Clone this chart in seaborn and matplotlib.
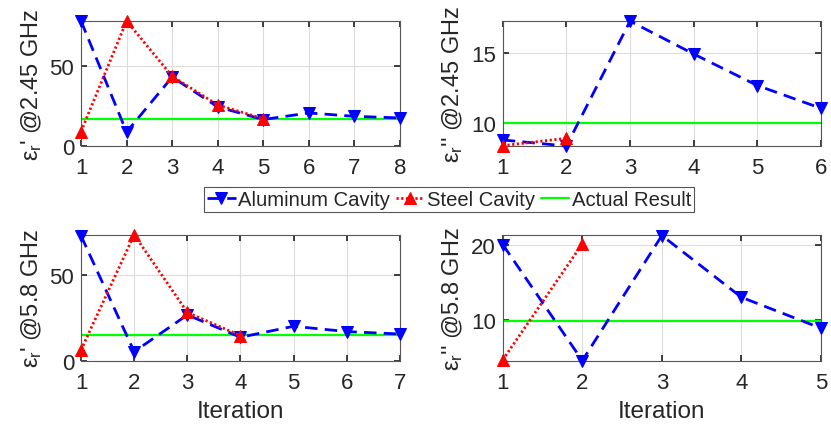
import matplotlib
matplotlib.use("Agg")
import matplotlib.pyplot as plt
import seaborn as sns
import pandas as pd
import numpy as np

# ---- data ----
al_245_re = [78, 8.7, 43, 24.4, 16.5, 20.6, 18.5, 17.5]
st_245_re = [9, 78, 43.5, 25.6, 17]
act_245_re = 16.8

al_245_im = [8.81, 8.38, 17.3, 14.95, 12.7, 11.07]
st_245_im = [8.4, 8.93]
act_245_im = 10.0

al_58_re = [72.7, 5.2, 26.6, 13.6, 20.0, 16.9, 15.5]
st_58_re = [6.2, 73.3, 28.1, 14.5]
act_58_re = 15.1

al_58_im = [20.0, 4.6, 21.2, 13.0, 8.9]
st_58_im = [4.7, 20.1]
act_58_im = 9.8

ylabels = ["ε$_\\mathregular{r}$' @2.45 GHz", "ε$_\\mathregular{r}$'' @2.45 GHz",
           "ε$_\\mathregular{r}$' @5.8 GHz", "ε$_\\mathregular{r}$'' @5.8 GHz"]
yticks = [[0, 50], [10, 15], [0, 50], [10, 20]]
ylims = [(0, 78), (8.38, 17.31), (0, 73.3), (4.6, 21.3)]
legend_labels = ["Aluminum Cavity", "Steel Cavity", "Actual Result"]

sns.set_theme(style="white")
plt.rcParams['font.family'] = ['Liberation Sans', 'DejaVu Sans']
plt.rcParams['mathtext.fontset'] = 'custom'
plt.rcParams['mathtext.rm'] = 'Liberation Sans'
plt.rcParams['mathtext.it'] = 'Liberation Sans:italic'

fig = plt.figure(figsize=(8.31, 4.31), dpi=100)
positions = [
    [0.0975, 0.659, 0.3838, 0.290],
    [0.605, 0.659, 0.383, 0.290],
    [0.0975, 0.161, 0.3838, 0.292],
    [0.605, 0.161, 0.383, 0.292],
]
panels = [
    (al_245_re, st_245_re, act_245_re),
    (al_245_im, st_245_im, act_245_im),
    (al_58_re, st_58_re, act_58_re),
    (al_58_im, st_58_im, act_58_im),
]

axc = '#262626'
handles = None
for i, (al, st, act) in enumerate(panels):
    ax = fig.add_axes(positions[i])
    df_al = pd.DataFrame({"it": np.arange(1, len(al) + 1), "v": al})
    df_st = pd.DataFrame({"it": np.arange(1, len(st) + 1), "v": st})
    n = len(al)
    df_act = pd.DataFrame({"it": [1, n], "v": [act, act]})
    sns.lineplot(data=df_act, x="it", y="v", ax=ax, color=(0, 1, 0), lw=1.6,
                 label=legend_labels[2], zorder=2)
    sns.lineplot(data=df_al, x="it", y="v", ax=ax, color=(0, 0, 1), lw=2.0,
                 linestyle=(0, (4.5, 2.6)), marker="v", markersize=8, markeredgecolor=(0, 0, 1),
                 label=legend_labels[0], clip_on=False, zorder=3)
    sns.lineplot(data=df_st, x="it", y="v", ax=ax, color=(1, 0, 0), lw=2.0,
                 linestyle=(0, (0.8, 0.9)), marker="^", markersize=8, markeredgecolor=(1, 0, 0),
                 label=legend_labels[1], clip_on=False, zorder=4)
    h, l = ax.get_legend_handles_labels()
    if handles is None:
        handles = dict(zip(l, h))
    ax.get_legend().remove()
    ax.set_xlim(1, n)
    ax.set_xticks(np.arange(1, n + 1))
    ax.set_ylim(*ylims[i])
    ax.set_yticks(yticks[i])
    ax.grid(True, color='#dcdcdc', lw=0.8)
    for s in ax.spines.values():
        s.set_color('#555555')
        s.set_linewidth(0.8)
    ax.tick_params(direction='in', length=4, colors=axc, labelsize=16, top=True, right=True,
                   bottom=True, left=True, pad=5)
    ax.tick_params(axis='x', pad=8)
    ax.set_ylabel(ylabels[i], fontsize=17, color=axc, labelpad=4)
    if i >= 2:
        ax.set_xlabel("Iteration", fontsize=17.5, color=axc, labelpad=5)
    else:
        ax.set_xlabel("")

leg = fig.legend([handles[k] for k in legend_labels], legend_labels, ncol=3,
                 loc='center', bbox_to_anchor=(0.5405, 0.535), fontsize=14.6,
                 frameon=True, fancybox=False, edgecolor='#555555', framealpha=1,
                 handlelength=1.4, handletextpad=0.12, columnspacing=0.3,
                 borderpad=0.15, borderaxespad=0)
leg.get_frame().set_linewidth(0.8)

fig.savefig("out.png", dpi=100)
